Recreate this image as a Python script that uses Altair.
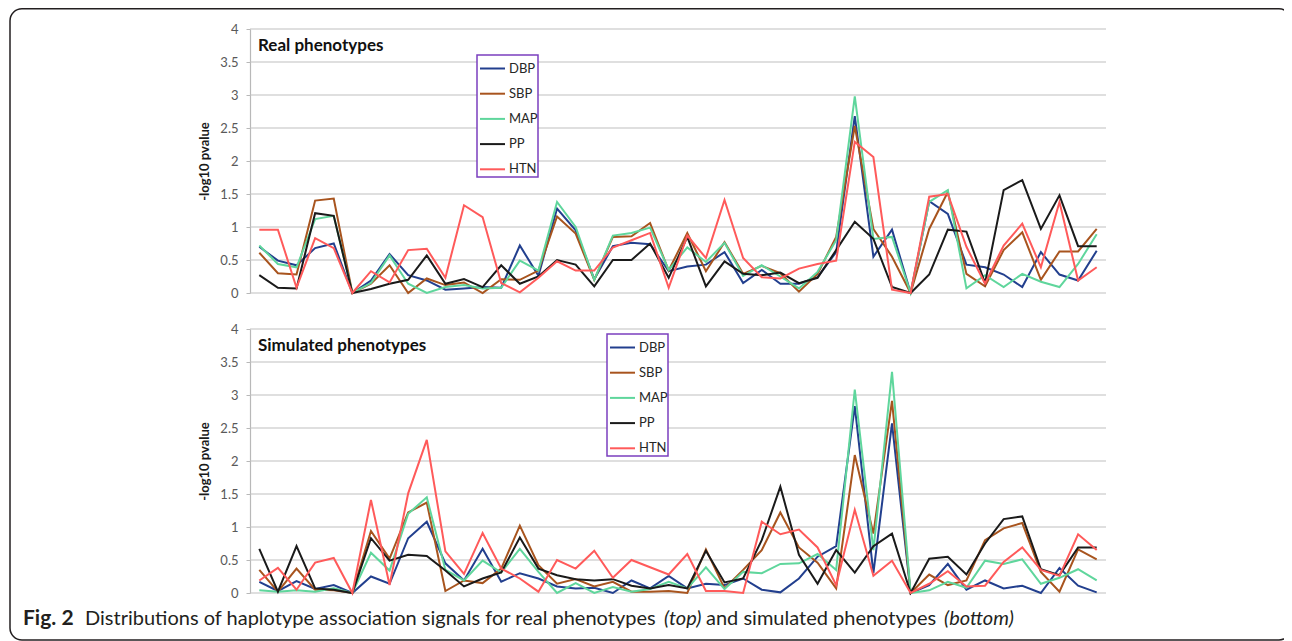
import altair as alt
import pandas as pd

series = ["DBP", "SBP", "MAP", "PP", "HTN"]
colors = ["#223F8E", "#A8541E", "#5FD69C", "#1A1A1A", "#FF5A5A"]
widths = [2.0, 2.0, 1.1, 2.0, 1.0]
y_ticks = [0, 0.5, 1, 1.5, 2, 2.5, 3, 3.5, 4]

real_DBP = [0.70,0.49,0.42,0.68,0.75,0.00,0.19,0.59,0.27,0.19,0.05,0.07,0.09,0.08,0.72,0.26,1.28,0.95,0.21,0.71,0.76,0.74,0.33,0.40,0.43,0.62,0.15,0.35,0.14,0.14,0.24,0.62,2.68,0.55,0.96,0.00,1.39,1.20,0.43,0.39,0.28,0.09,0.62,0.28,0.19,0.64]
real_SBP = [0.61,0.30,0.28,1.40,1.43,0.00,0.14,0.42,0.00,0.22,0.12,0.16,0.00,0.21,0.20,0.34,1.16,0.90,0.20,0.85,0.86,1.06,0.34,0.91,0.33,0.77,0.29,0.41,0.30,0.02,0.29,0.85,2.53,0.97,0.55,0.00,0.97,1.53,0.29,0.10,0.65,0.92,0.20,0.63,0.63,0.97]
real_MAP = [0.72,0.44,0.39,1.12,1.17,0.00,0.15,0.57,0.14,0.00,0.09,0.12,0.07,0.08,0.49,0.34,1.38,1.00,0.20,0.87,0.91,0.99,0.35,0.69,0.47,0.76,0.26,0.42,0.25,0.07,0.32,0.80,2.98,0.82,0.85,0.00,1.38,1.56,0.07,0.27,0.09,0.29,0.17,0.09,0.44,0.89]
real_PP = [0.27,0.08,0.07,1.21,1.17,0.00,0.06,0.14,0.20,0.57,0.14,0.21,0.09,0.42,0.14,0.25,0.50,0.43,0.10,0.50,0.50,0.75,0.23,0.85,0.10,0.48,0.29,0.27,0.31,0.15,0.23,0.65,1.08,0.82,0.09,0.00,0.28,0.96,0.93,0.15,1.56,1.71,0.97,1.48,0.71,0.71]
real_HTN = [0.96,0.96,0.08,0.83,0.68,0.00,0.33,0.16,0.65,0.67,0.23,1.33,1.15,0.15,0.01,0.23,0.48,0.34,0.34,0.69,0.80,0.91,0.08,0.87,0.53,1.41,0.53,0.24,0.22,0.37,0.44,0.49,2.29,2.06,0.05,0.00,1.46,1.50,0.70,0.14,0.72,1.05,0.39,1.38,0.19,0.39]

sim_DBP = [0.17,0.03,0.18,0.06,0.12,0.00,0.25,0.14,0.83,1.08,0.45,0.19,0.67,0.17,0.30,0.22,0.10,0.07,0.08,0.00,0.19,0.07,0.26,0.07,0.14,0.12,0.22,0.05,0.01,0.22,0.55,0.71,2.83,0.30,2.57,0.00,0.12,0.44,0.05,0.19,0.07,0.11,0.00,0.38,0.11,0.01]
sim_SBP = [0.35,0.02,0.37,0.05,0.04,0.00,0.94,0.52,1.22,1.37,0.03,0.19,0.15,0.37,1.02,0.42,0.14,0.21,0.10,0.17,0.02,0.02,0.03,0.00,0.66,0.07,0.35,0.65,1.22,0.69,0.46,0.07,2.09,0.90,2.91,0.00,0.28,0.12,0.19,0.80,0.98,1.06,0.32,0.02,0.66,0.51]
sim_MAP = [0.04,0.02,0.04,0.02,0.07,0.00,0.61,0.34,1.20,1.45,0.35,0.19,0.49,0.31,0.67,0.32,0.00,0.15,0.00,0.09,0.02,0.06,0.17,0.07,0.39,0.06,0.32,0.30,0.44,0.45,0.59,0.35,3.08,0.65,3.35,0.00,0.04,0.17,0.08,0.49,0.44,0.51,0.14,0.23,0.36,0.19]
sim_PP = [0.67,0.02,0.71,0.07,0.05,0.00,0.83,0.49,0.58,0.56,0.34,0.10,0.22,0.31,0.84,0.37,0.27,0.21,0.19,0.21,0.11,0.07,0.12,0.07,0.64,0.16,0.22,0.80,1.61,0.58,0.14,0.65,0.31,0.71,0.90,0.00,0.52,0.55,0.28,0.75,1.12,1.16,0.36,0.27,0.69,0.69]
sim_HTN = [0.19,0.38,0.05,0.46,0.53,0.00,1.41,0.12,1.51,2.32,0.63,0.29,0.91,0.37,0.22,0.02,0.50,0.37,0.64,0.23,0.50,0.39,0.28,0.59,0.03,0.03,0.00,1.08,0.89,0.96,0.69,0.12,1.26,0.26,0.49,0.00,0.14,0.33,0.10,0.11,0.47,0.69,0.35,0.26,0.89,0.65]

panel_titles = ["Real phenotypes", "Simulated phenotypes"]
y_title = "-log10 pvalue"
caption_parts = ["Fig. 2", "Distributions of haplotype association signals for real phenotypes",
                 "(top)", "and simulated phenotypes", "(bottom)"]
caption_weight = ["bold", "normal", "normal", "normal", "normal"]
caption_style = ["normal", "normal", "italic", "normal", "italic"]
caption_size = [21, 20, 20, 20, 20]
caption_page_x = [23, 85, 664, 706, 944]

real = {"DBP": real_DBP, "SBP": real_SBP, "MAP": real_MAP, "PP": real_PP, "HTN": real_HTN}
sim = {"DBP": sim_DBP, "SBP": sim_SBP, "MAP": sim_MAP, "PP": sim_PP, "HTN": sim_HTN}


def to_long(d):
    rows = []
    for s in series:
        for i, v in enumerate(d[s]):
            rows.append({"idx": i, "series": s, "value": v})
    return pd.DataFrame(rows)


# layout (pixels inside the svg; svg origin is page (8, 8))
PL, PT = 242, 21            # plot-area origin inside the svg
W, H = 856, 564             # plot-area size (both panels)
SVG_W, SVG_H = 1276, 633
FONT = "Lato"


def gx(page_x):
    return page_x - 8 - PL


def gy(page_y):
    return page_y - 8 - PT


def panel(d, y_bottom, y_top, title, lx, ly):
    xs = alt.Scale(domain=[-0.5, 45.5], range=[0, W])
    ys = alt.Scale(domain=[0, 4], range=[y_bottom, y_top])
    grid = alt.Chart(pd.DataFrame({"g": y_ticks})).mark_rule(
        color="#c0c0c0", strokeWidth=1.2
    ).encode(
        y=alt.Y("g:Q", scale=ys, axis=None),
        x=alt.value(0),
        x2=alt.value(W),
    )
    lines = alt.Chart(to_long(d)).mark_line(strokeJoin="miter").encode(
        x=alt.X("idx:Q", scale=xs, axis=None),
        y=alt.Y("value:Q", scale=ys, axis=alt.Axis(
            orient="left", values=y_ticks, format="~g", grid=False,
            domainColor="#b8b8b8", domainWidth=1.2, tickColor="#b8b8b8", tickSize=4,
            labelPadding=8, labelFont=FONT, labelFontSize=13, labelColor="#595959",
            title=y_title, titleFont=FONT, titleFontSize=13, titleFontWeight="bold",
            titleColor="#1a1a1a", titlePadding=8)),
        color=alt.Color("series:N", sort=series,
                        scale=alt.Scale(domain=series, range=colors),
                        legend=alt.Legend(
                            orient="none", legendX=lx, legendY=ly, title=None,
                            symbolType="stroke", symbolSize=625, symbolStrokeWidth=2,
                            symbolOffset=2, labelOffset=3, labelFont=FONT,
                            labelFontSize=13, labelColor="#262626", padding=0,
                            rowPadding=4.2, strokeColor="#7B3FBF", fillColor="white",
                            labelExpr="datum.label + '\u00a0\u00a0'")),
        strokeWidth=alt.StrokeWidth("series:N",
                                    scale=alt.Scale(domain=series, range=widths),
                                    legend=None),
    )
    ttl = alt.Chart(pd.DataFrame({"t": [title]})).mark_text(
        align="left", baseline="middle", font=FONT, fontSize=17,
        fontWeight="bold", color="#111111"
    ).encode(text="t:N", x=alt.value(8), y=alt.value(y_top + 17))
    return [grid, lines, ttl]


top = panel(real, 264, 0, panel_titles[0], gx(477), gy(55))
bottom = panel(sim, 564, 300, panel_titles[1], gx(607), gy(334))

border = alt.Chart(pd.DataFrame({"b": [0]})).mark_rect(
    fill="transparent", stroke="#231f20", strokeWidth=1.5, cornerRadius=12
).encode(x=alt.value(gx(10)), x2=alt.value(gx(1291)),
         y=alt.value(gy(8.75)), y2=alt.value(gy(640)))

caption_layers = []
for txt, w, st, fs, cx in zip(caption_parts, caption_weight, caption_style,
                              caption_size, caption_page_x):
    caption_layers.append(
        alt.Chart(pd.DataFrame({"t": [txt]})).mark_text(
            align="left", baseline="middle", font=FONT,
            fontSize=fs, fontWeight=w, fontStyle=st, color="#231f20"
        ).encode(text="t:N", x=alt.value(gx(cx)), y=alt.value(gy(619)))
    )

chart = alt.layer(border, *top, *bottom, *caption_layers).resolve_scale(
    x="independent", y="independent", color="independent", strokeWidth="independent"
).properties(
    width=W, height=H,
    autosize=alt.AutoSizeParams(type="none"),
    padding={"left": PL, "top": PT, "right": SVG_W - PL - W, "bottom": SVG_H - PT - H},
).configure_view(stroke=None).configure_legend(strokeWidth=1.5)

chart.save("out.html", embed_options={"renderer": "svg", "actions": False})
